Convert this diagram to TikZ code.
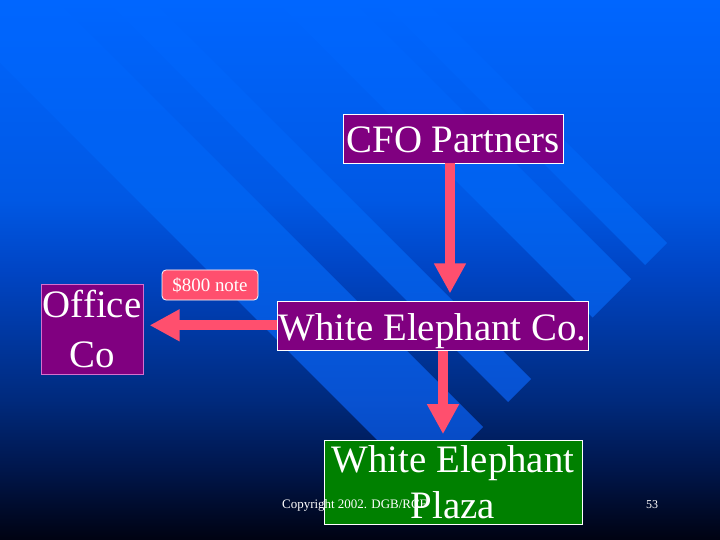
\documentclass[tikz,border=0pt]{standalone}
\usepackage{fontspec}
\setmainfont{Liberation Serif}
\usetikzlibrary{arrows.meta,positioning,calc}

\definecolor{entpurple}{RGB}{128,0,128}
\definecolor{officeline}{RGB}{214,112,204}
\definecolor{plazagreen}{RGB}{0,128,0}
\definecolor{notepink}{RGB}{255,79,110}

\pgfdeclareverticalshading{slidebg}{100bp}{rgb(0bp)=(0,0.01,0.07); rgb(25bp)=(0,0.01,0.07); rgb(31.5bp)=(0,0.086,0.294); rgb(38bp)=(0,0.165,0.49); rgb(50bp)=(0,0.27,0.77); rgb(56.5bp)=(0,0.345,0.894); rgb(75bp)=(0,0.4,1); rgb(100bp)=(0,0.4,1)}
\pgfdeclareverticalshading{bandbg}{100bp}{rgb(0bp)=(0.02,0.235,0.667); rgb(25bp)=(0.02,0.235,0.667); rgb(38bp)=(0.03,0.32,0.82); rgb(56.5bp)=(0,0.385,0.94); rgb(64bp)=(0,0.385,0.96); rgb(75bp)=(0,0.4,1); rgb(100bp)=(0,0.4,1)}

\tikzset{
    entity/.style={draw=white, line width=0.8bp, fill=entpurple, text=white, inner sep=0pt, align=center, font=\fontsize{39}{50}\selectfont},
    oneline/.style={text height=38.5bp, text depth=10.5bp},
    fatarrow/.style={draw=notepink, line width=10bp, -{Triangle[width=30bp,length=30bp]}},
    notebox/.style={draw=white, line width=0.8bp, fill=notepink, text=white, rounded corners=4bp, inner sep=0pt, minimum width=96bp, minimum height=30bp, font=\fontsize{19}{22}\selectfont},
    footer/.style={text=white, inner sep=0pt, font=\fontsize{13}{15}\selectfont}
}

\begin{document}
\begin{tikzpicture}[x=1bp, y=-1bp]
    \useasboundingbox (0,0) rectangle (720,540);
    \shade[shading=slidebg] (0,0) rectangle (720,540);
    % diagonal bands
    \foreach \a/\b in {424/380, 352/275, 152/106, 56/-63} {
        \begin{scope}
            \clip ({(910+\a)/2},{(910-\a)/2}) -- ({(910+(\b))/2},{(910-(\b))/2})
                -- ({((\b)-200)/2},{(-200-(\b))/2}) -- ({(\a-200)/2},{(-200-\a)/2}) -- cycle;
            \shade[shading=bandbg] (0,0) rectangle (720,540);
        \end{scope}
    }

    \node[entity, oneline, minimum width=220bp] (cfo) at (453,138.5) {CFO Partners};
    \node[entity, oneline, minimum width=311bp, below=138bp of cfo, xshift=-20.5bp] (weco) {White Elephant Co.};
    \node[entity, fill=plazagreen, font=\fontsize{39}{46}\selectfont, minimum width=258bp, minimum height=84bp,
        below=89bp of weco, xshift=20.5bp] (plaza) {White Elephant\\Plaza};
    \node[entity, draw=officeline, minimum width=102bp, minimum height=90bp, left=133bp of weco, yshift=-3bp] (office) {Office\\Co};
    \node[notebox] (note) at (210,285) {\$800 note};

    \draw[fatarrow] ($(cfo.south)+(-3,0)$) -- ($(cfo.south |- weco.north)+(-3,-8)$);
    \draw[fatarrow] ($(weco.south)+(10.5,0)$) -- ($(weco.south |- plaza.north)+(10.5,-6)$);
    \draw[fatarrow] ($(weco.west)+(0,-1)$) -- ($(office.east |- weco.west)+(6,-1)$);

    \node[footer, anchor=base west] (copy) at (282,508) {Copyright 2002. DGB/RCF};
    \node[footer, font=\fontsize{12}{14}\selectfont, anchor=base] (page) at (652,508) {53};
\end{tikzpicture}
\end{document}
